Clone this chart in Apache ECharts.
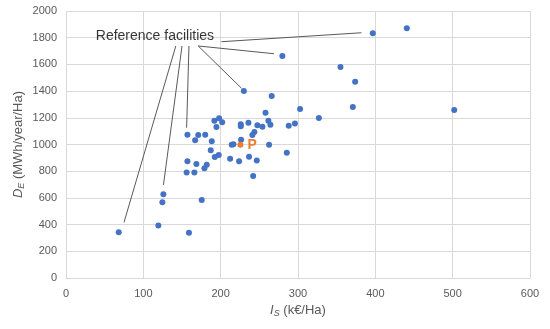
<!DOCTYPE html>
<html>
<head>
<meta charset="utf-8">
<script src="https://cdn.jsdelivr.net/npm/echarts@6/dist/echarts.min.js"></script>
<style>html,body{margin:0;padding:0;background:#fff}#c{width:550px;height:329px}</style>
</head>
<body>
<div id="c"></div>
<script>
// Facility investment I_S (k€/Ha)
var isValues = [440.7, 396.7, 279.8, 354.9, 373.9, 230, 266, 302.7, 370.9, 502, 258, 327,
  191.9, 198, 202, 194.5, 226, 226, 235.9, 247.5, 254, 261.7, 264.3, 296, 288,
  243.6, 241, 157, 171, 180, 167, 188.5, 226.4, 214.3, 216.5, 262.6, 285.5,
  187.2, 197.5, 192.4, 212.2, 223.8, 236.7, 246.7, 157, 168.6, 182, 179,
  156, 166, 242, 125.9, 124.6, 175.5, 119.4, 68.2, 159];
// Energy density D_E (MWh/year/Ha)
var deValues = [1870, 1833, 1663, 1580, 1470, 1400, 1363, 1266, 1281, 1258, 1238, 1198,
  1178, 1196, 1166, 1131, 1151, 1136, 1163, 1144, 1133, 1178, 1148, 1158, 1141,
  1094, 1071, 1073, 1071, 1073, 1031, 1024, 1036, 998, 1001, 998, 939,
  956, 921, 906, 894, 874, 909, 881, 874, 854, 849, 822,
  791, 791, 764, 627, 567, 584, 393, 342, 339];
// Project P
var pointP = [225.5, 998];
var pointPLabel = "P";
// Annotation
var annotationText = "Reference facilities";
var annotationAnchor = [115, 1815];
var leaderStarts = [[142, 1738], [150, 1738], [159, 1738], [171, 1738], [171, 1738], [201, 1770]];
var leaderEnds = [[75, 417], [126, 697], [156, 1126], [227, 1421], [269, 1680], [382, 1837]];
// Axes
var xTicks = {min: 0, max: 600, interval: 100};
var yTicks = {min: 0, max: 2000, interval: 200};

var pts = isValues.map(function (v, i) { return [v, deValues[i]]; });
var leaders = leaderStarts.map(function (s, i) { return {coords: [s, leaderEnds[i]]}; });

var chart = echarts.init(document.getElementById('c'), null, {renderer: 'canvas'});
var FF = 'Liberation Sans, Arial, sans-serif';
var axisLabelStyle = {color: '#595959', fontSize: 11, fontFamily: FF, formatter: function (v) { return String(v); }};
var nameRich = {
  i: {fontStyle: 'italic', fontSize: 13, color: '#595959', fontFamily: FF},
  s: {fontStyle: 'italic', fontSize: 9, color: '#595959', padding: [6, 0, 0, 0], fontFamily: FF}
};
chart.setOption({
  animation: false,
  backgroundColor: '#fff',
  grid: {left: 66, right: 20, top: 11, bottom: 51},
  xAxis: {
    type: 'value', min: xTicks.min, max: xTicks.max, interval: xTicks.interval,
    axisLine: {show: true, lineStyle: {color: '#d9d9d9'}},
    axisTick: {show: false},
    axisLabel: Object.assign({margin: 10}, axisLabelStyle),
    splitLine: {show: true, lineStyle: {color: '#d9d9d9'}},
    name: '{i|I}{s|S} (k€/Ha)', nameLocation: 'middle', nameGap: 24,
    nameTextStyle: {color: '#595959', fontSize: 13, fontFamily: FF, rich: nameRich}
  },
  yAxis: {
    type: 'value', min: yTicks.min, max: yTicks.max, interval: yTicks.interval,
    axisLine: {show: false},
    axisTick: {show: false},
    axisLabel: Object.assign({margin: 9}, axisLabelStyle),
    splitLine: {show: true, lineStyle: {color: '#d9d9d9'}},
    name: '{i|D}{s|E} (MWh/year/Ha)', nameLocation: 'middle', nameGap: 40, nameRotate: 90,
    nameMoveOverlap: false,
    nameTextStyle: {color: '#595959', fontSize: 13, fontFamily: FF, rich: nameRich}
  },
  series: [
    {
      type: 'lines', coordinateSystem: 'cartesian2d', silent: true, z: 1,
      lineStyle: {color: '#595959', width: 1, opacity: 1},
      data: leaders
    },
    {
      type: 'scatter', symbol: 'circle', symbolSize: 6, z: 3,
      itemStyle: {color: '#4472C4', opacity: 1},
      data: pts
    },
    {
      type: 'scatter', symbol: 'circle', symbolSize: 6, z: 4,
      itemStyle: {color: '#ED7D31', opacity: 1},
      label: {show: true, position: 'right', distance: 4, formatter: pointPLabel,
        color: '#ED7D31', fontWeight: 'bold', fontSize: 14, fontFamily: FF},
      data: [pointP]
    },
    {
      type: 'scatter', symbolSize: 0, z: 5, silent: true,
      label: {show: true, position: 'inside', formatter: annotationText,
        color: '#000', fontSize: 14, fontFamily: FF},
      data: [annotationAnchor]
    }
  ]
});
</script>
</body>
</html>
